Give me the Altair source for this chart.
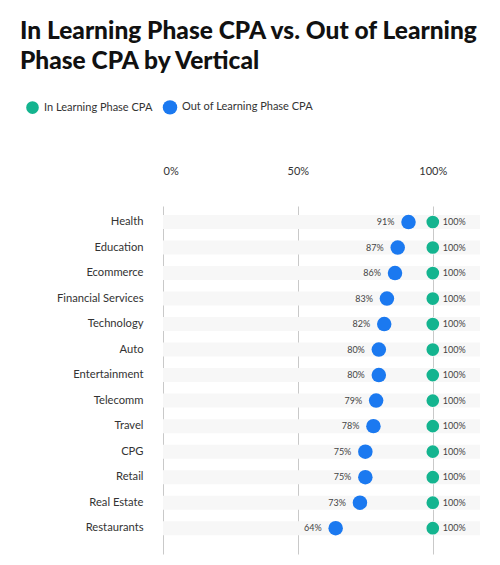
import pandas as pd
import altair as alt

# values
verticals = ["Health", "Education", "Ecommerce", "Financial Services", "Technology",
             "Auto", "Entertainment", "Telecomm", "Travel", "CPG", "Retail",
             "Real Estate", "Restaurants"]
out_cpa = [91, 87, 86, 83, 82, 80, 80, 79, 78, 75, 75, 73, 64]
in_cpa = [100, 100, 100, 100, 100, 100, 100, 100, 100, 100, 100, 100, 100]
tick_values = [0, 0.5, 1.0]

series = ["In Learning Phase CPA", "Out of Learning Phase CPA"]
colors = ["#14b48f", "#1b79f0"]

rows = pd.DataFrame({
    "vertical": verticals,
    "in": [v / 100 for v in in_cpa],
    "out": [v / 100 for v in out_cpa],
})
long = rows.melt(id_vars="vertical", value_vars=["in", "out"], var_name="key", value_name="cpa")
long["series"] = long["key"].map({"in": series[0], "out": series[1]})

font = "Lato"
y_enc = alt.Y(
    "vertical:N", sort=verticals, title=None,
    scale=alt.Scale(paddingInner=0, paddingOuter=0.32, align=0.2),
    axis=alt.Axis(domain=False, ticks=False, labelPadding=20, labelFontSize=11.2,
                  labelColor="#333", labelFont=font, minExtent=143, maxExtent=143),
)
x_enc = alt.X(
    "cpa:Q", title=None, scale=alt.Scale(domain=[0, 1.175], nice=False),
    axis=alt.Axis(orient="top", values=tick_values, format="%", grid=True,
                  gridColor="#c9c9c9", gridWidth=1, domain=False, ticks=False,
                  labelPadding=30, labelFontSize=11, labelColor="#333",
                  labelFont=font),
)

# light row bands
bands = alt.Chart(rows).mark_bar(color="#f7f7f7", height=14).encode(
    y=y_enc,
    x=alt.value(0),
    x2=alt.value("width"),
)

points = alt.Chart(long).mark_circle(opacity=1).encode(
    y=y_enc,
    x=x_enc,
    color=alt.Color("series:N", scale=alt.Scale(domain=series, range=colors),
                    legend=alt.Legend(orient="none", legendX=-138, legendY=-107,
                                      direction="horizontal", title=None,
                                      symbolType="circle", symbolSize=90,
                                      symbolOpacity=1, labelFontSize=11,
                                      labelFont=font, labelColor="#333",
                                      columnPadding=9, labelOffset=4)),
    size=alt.Size("series:N", scale=alt.Scale(domain=series, range=[160, 210]), legend=None),
)

out_labels = alt.Chart(long).transform_filter(
    alt.datum.key == "out"
).mark_text(align="right", dx=-14, fontSize=9, font=font, color="#444").encode(
    y=y_enc,
    x=x_enc,
    text=alt.Text("cpa:Q", format=".0%"),
)

in_labels = alt.Chart(long).transform_filter(
    alt.datum.key == "in"
).mark_text(align="left", dx=10, fontSize=9, font=font, color="#444").encode(
    y=y_enc,
    x=x_enc,
    text=alt.Text("cpa:Q", format=".0%"),
)

chart = alt.layer(bands, points, out_labels, in_labels).properties(
    width=317,
    height=348,
    padding={"left": 12, "top": 10, "right": 5, "bottom": 5},
    title=alt.TitleParams(
        ["In Learning Phase CPA vs. Out of Learning", "Phase CPA by Vertical"],
        anchor="start", frame="bounds", font=font, fontSize=24.5, fontWeight=900,
        color="#111", lineHeight=30, offset=25,
    ),
).configure_view(stroke=None)

chart.save("out.html", embed_options={"renderer": "svg", "actions": False})
